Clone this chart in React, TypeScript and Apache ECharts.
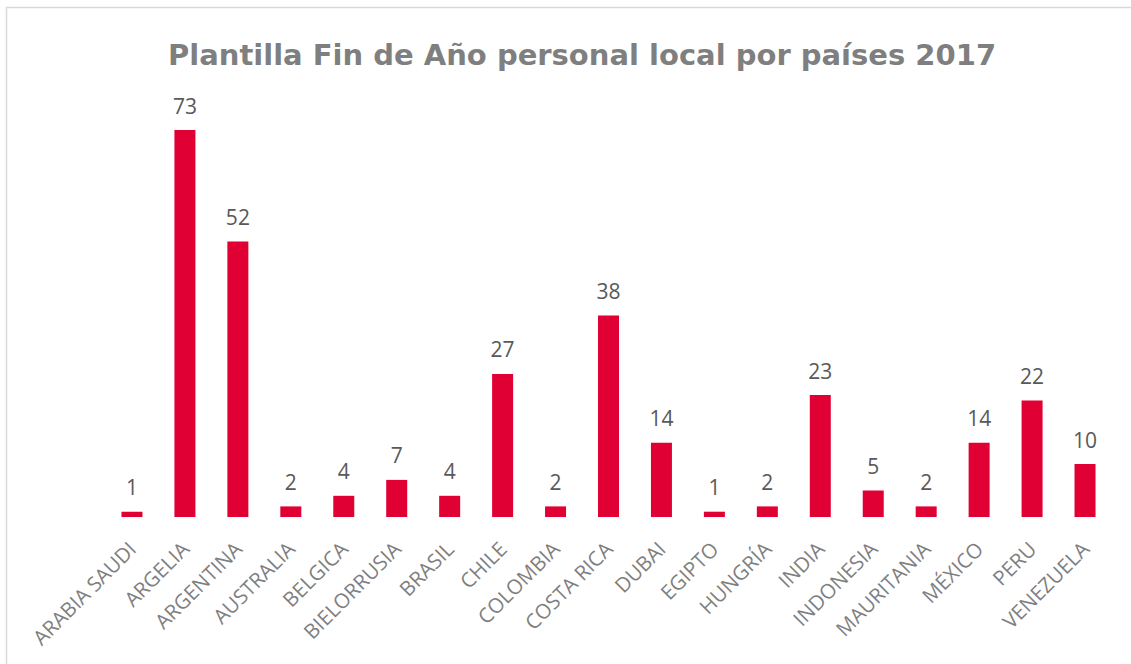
import React, { useEffect, useRef } from "react";
import * as echarts from "echarts";

const titleText = "Plantilla Fin de Año personal local por países 2017";
const countries = [
  "ARABIA SAUDI", "ARGELIA", "ARGENTINA", "AUSTRALIA", "BELGICA", "BIELORRUSIA",
  "BRASIL", "CHILE", "COLOMBIA", "COSTA RICA", "DUBAI", "EGIPTO", "HUNGRÍA",
  "INDIA", "INDONESIA", "MAURITANIA", "MÉXICO", "PERU", "VENEZUELA",
];
const headcount = [1, 73, 52, 2, 4, 7, 4, 27, 2, 38, 14, 1, 2, 23, 5, 2, 14, 22, 10];

export default function App() {
  const ref = useRef<HTMLDivElement>(null);
  useEffect(() => {
    if (!ref.current) return;
    const chart = echarts.init(ref.current, null, { renderer: "svg" });
    chart.setOption({
      animation: false,
      backgroundColor: "#ffffff",
      title: {
        text: titleText,
        left: 163,
        top: 35,
        textStyle: {
          fontFamily: "DejaVu Sans",
          fontWeight: "bold",
          fontSize: 29,
          color: "#7f7f7f",
        },
      },
      graphic: [
        {
          type: "rect",
          shape: { x: 6.5, y: 7.5, width: 1140, height: 700 },
          style: { fill: "none", stroke: "#d9d9d9", lineWidth: 1.5 },
          silent: true,
        },
      ],
      grid: { left: 105.5, right: 19.5, top: 93, bottom: 147 },
      xAxis: {
        type: "category",
        data: countries,
        axisLine: { show: false },
        axisTick: { show: false },
        axisLabel: {
          rotate: 45,
          interval: 0,
          margin: 28,
          fontFamily: "Open Sans",
          fontSize: 20.5,
          color: "#7f7f7f",
        },
      },
      yAxis: {
        type: "value",
        min: 0,
        max: 80,
        show: false,
        splitLine: { show: false },
      },
      series: [
        {
          type: "bar",
          data: headcount,
          barWidth: 21,
          itemStyle: { color: "#E00034" },
          label: {
            show: true,
            position: "top",
            distance: 14,
            fontFamily: "Open Sans",
            fontSize: 21,
            color: "#595959",
          },
        },
      ],
    });
    return () => chart.dispose();
  }, []);
  return (
    <div
      ref={ref}
      style={{ position: "fixed", left: 0, top: 0, width: 1131, height: 664 }}
    />
  );
}
